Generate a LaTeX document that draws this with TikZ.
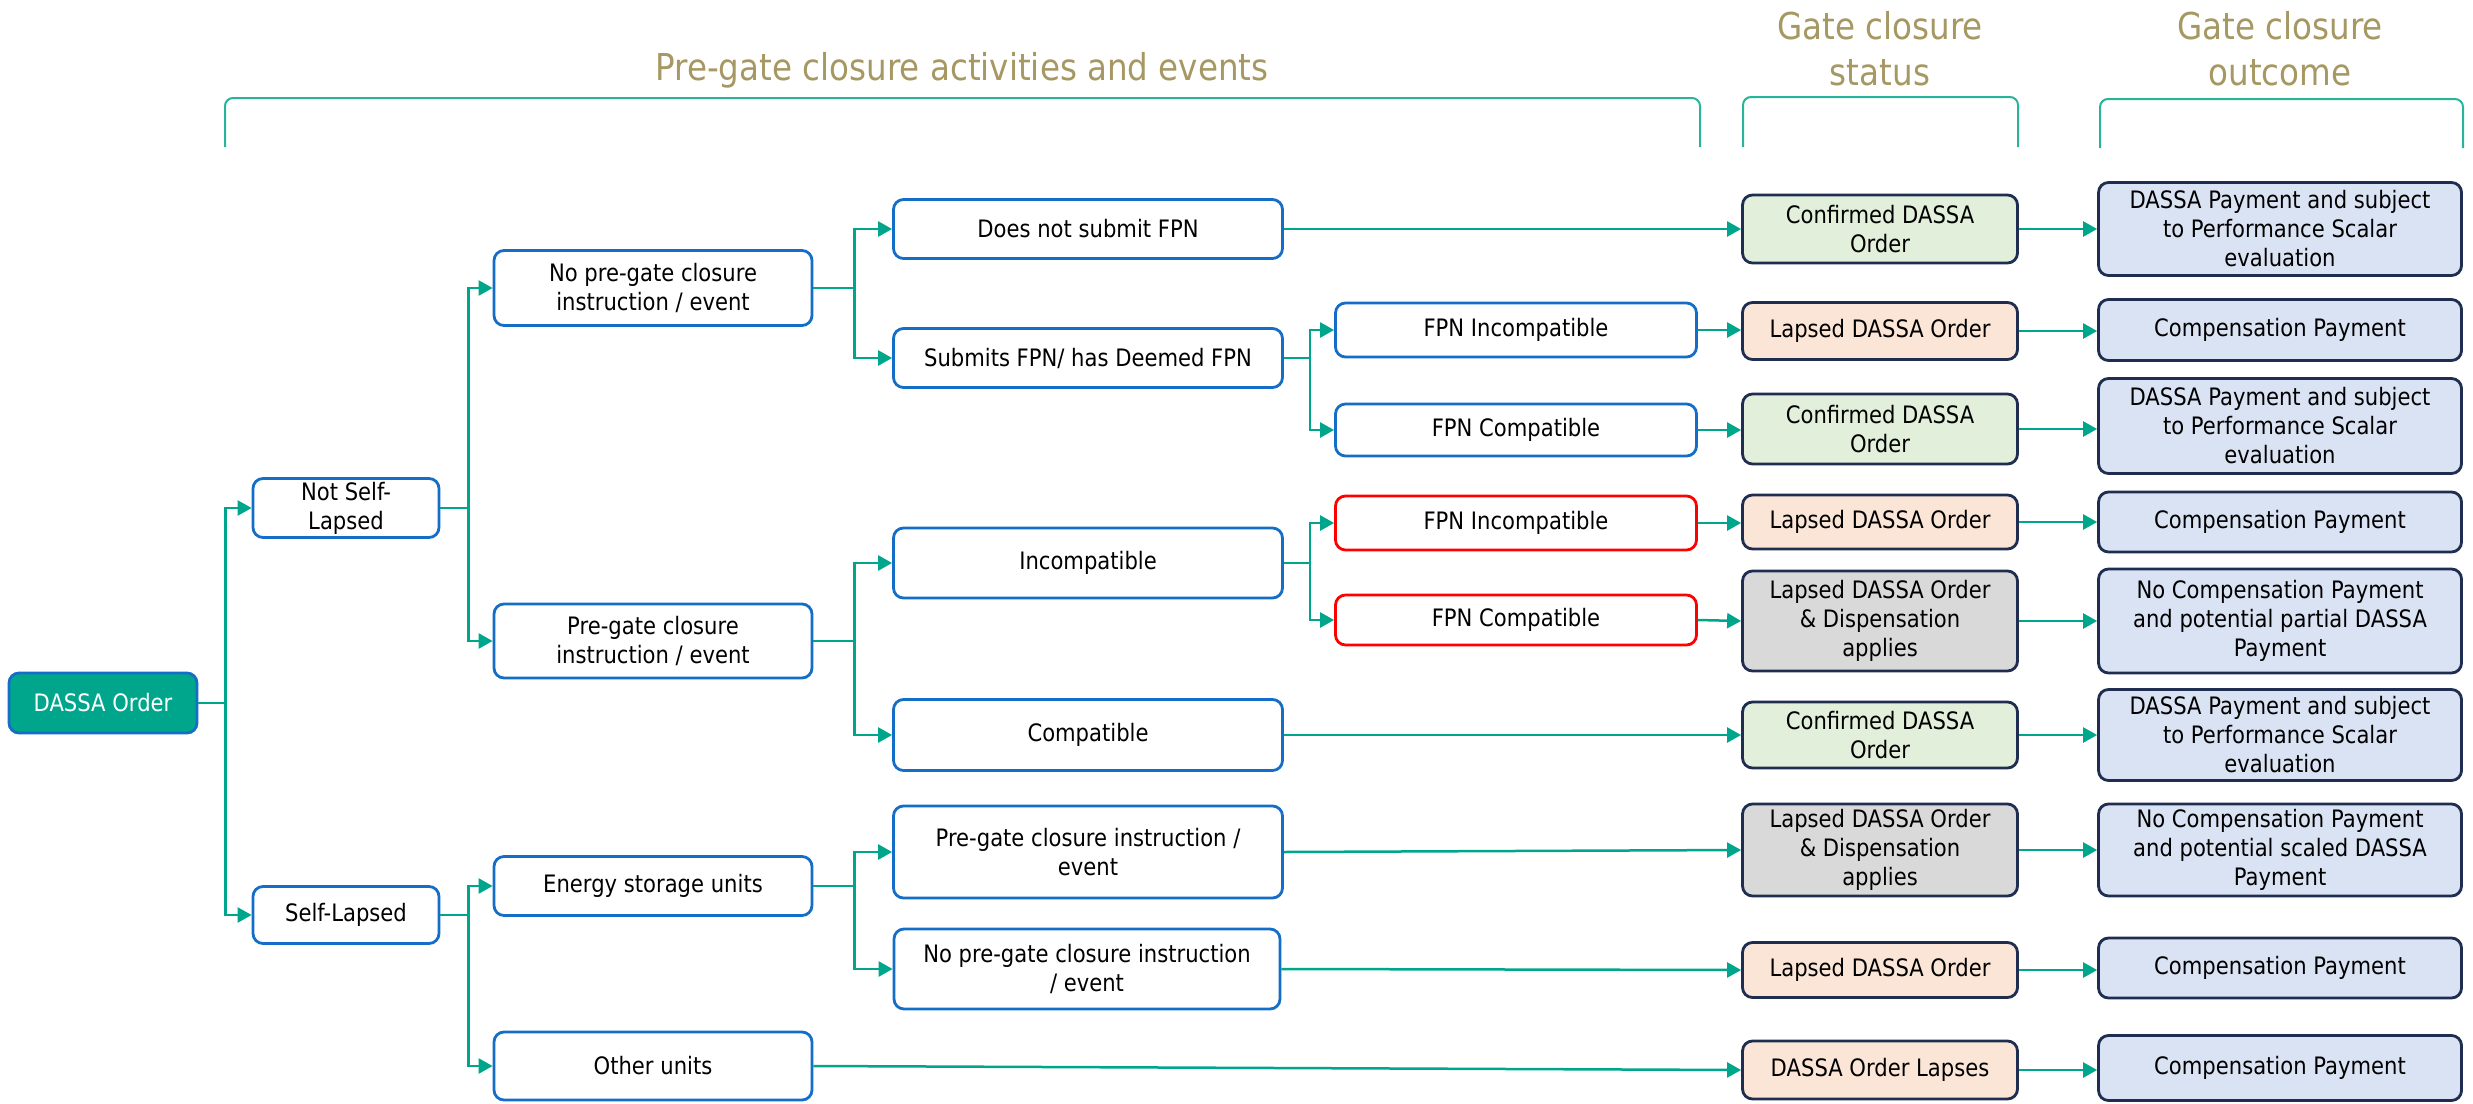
\documentclass[tikz,border=0pt]{standalone}
\usepackage{fontspec}
\setmainfont{DejaVu Sans}[FakeStretch=0.88]
\usetikzlibrary{arrows.meta}
\definecolor{teal1}{RGB}{0,166,140}
\definecolor{brkcol}{RGB}{40,180,155}
\definecolor{boxblue}{RGB}{20,110,200}
\definecolor{navy}{RGB}{30,45,80}
\definecolor{fgreen}{RGB}{226,239,218}
\definecolor{fpeach}{RGB}{251,229,214}
\definecolor{fgray}{RGB}{217,217,217}
\definecolor{fblue}{RGB}{218,227,243}
\definecolor{khaki}{RGB}{166,152,98}
\begin{document}
\begin{tikzpicture}[x=1pt,y=-1pt,
  base/.style={rounded corners=10pt, line width=2.8pt, align=center, inner sep=0pt,
    font=\fontsize{24}{29}\selectfont},
  lvl/.style={base, draw=boxblue, fill=white},
  redbox/.style={base, draw=red, fill=white},
  stgreen/.style={base, draw=navy, fill=fgreen, minimum width=275},
  stpeach/.style={base, draw=navy, fill=fpeach, minimum width=275},
  stgray/.style={base, draw=navy, fill=fgray, minimum width=275},
  outc/.style={base, draw=navy, fill=fblue, minimum width=363},
  conn/.style={draw=teal1, line width=2.5pt},
  arr/.style={conn, -{Triangle[length=14pt,width=15pt]}},
  hdr/.style={text=khaki, font=\fontsize{37}{46}\selectfont, inner sep=0pt, align=center},
  brk/.style={draw=brkcol, line width=2pt, rounded corners=8pt}]
\useasboundingbox (0,0) rectangle (2473,1103);

% headers
\node[hdr, anchor=base] (h1) at (962,80) {Pre-gate closure activities and events};
\node[hdr] (h2) at (1880,49) {Gate closure\\status};
\node[hdr] (h3) at (2280,49) {Gate closure\\outcome};
\draw[brk] (225,147) -- (225,98) -- (1700,98) -- (1700,147);
\draw[brk] (1743,147) -- (1743,97) -- (2018,97) -- (2018,147);
\draw[brk] (2100,148) -- (2100,99) -- (2463,99) -- (2463,148);

% level 0/1
\node[base, draw=boxblue, fill=teal1, text=white, minimum width=188, minimum height=60] (dassa) at (103,703) {DASSA Order};
\node[lvl, minimum width=186, minimum height=59] (nsl) at (346,508) {Not Self-\\Lapsed};
\node[lvl, minimum width=186, minimum height=57] (sl) at (346,915) {Self-Lapsed};

% level 2
\node[lvl, minimum width=318, minimum height=75] (np) at (653,288) {No pre-gate closure\\instruction / event};
\node[lvl, minimum width=318, minimum height=74] (pg) at (653,641) {Pre-gate closure\\instruction / event};
\node[lvl, minimum width=318, minimum height=59] (es) at (653,886) {Energy storage units};
\node[lvl, minimum width=318, minimum height=68] (ou) at (653,1066) {Other units};

% level 3
\node[lvl, minimum width=389, minimum height=59] (dn) at (1088,229) {Does not submit FPN};
\node[lvl, minimum width=389, minimum height=59] (sb) at (1088,358) {Submits FPN/ has Deemed FPN};
\node[lvl, minimum width=389, minimum height=70] (inc) at (1088,563) {Incompatible};
\node[lvl, minimum width=389, minimum height=71] (com) at (1088,735) {Compatible};
\node[lvl, minimum width=389, minimum height=92] (pgsl) at (1088,852) {Pre-gate closure instruction /\\event};
\node[lvl, minimum width=386, minimum height=80] (npsl) at (1087,969) {No pre-gate closure instruction\\/ event};

% level 4
\node[lvl, minimum width=361, minimum height=54] (fi1) at (1516,330) {FPN Incompatible};
\node[lvl, minimum width=361, minimum height=52] (fc1) at (1516,430) {FPN Compatible};
\node[redbox, minimum width=361, minimum height=54] (fi2) at (1516,523) {FPN Incompatible};
\node[redbox, minimum width=361, minimum height=50] (fc2) at (1516,620) {FPN Compatible};

% status
\node[stgreen, minimum height=68] (s1) at (1880,229) {Confirmed DASSA\\Order};
\node[stpeach, minimum height=57] (s2) at (1880,331) {Lapsed DASSA Order};
\node[stgreen, minimum height=70] (s3) at (1880,429) {Confirmed DASSA\\Order};
\node[stpeach, minimum height=54] (s4) at (1880,522) {Lapsed DASSA Order};
\node[stgray, minimum height=100] (s5) at (1880,621) {Lapsed DASSA Order\\\& Dispensation\\applies};
\node[stgreen, minimum height=66] (s6) at (1880,735) {Confirmed DASSA\\Order};
\node[stgray, minimum height=92] (s7) at (1880,850) {Lapsed DASSA Order\\\& Dispensation\\applies};
\node[stpeach, minimum height=55] (s8) at (1880,970) {Lapsed DASSA Order};
\node[stpeach, minimum height=58] (s9) at (1880,1070) {DASSA Order Lapses};

% outcome
\node[outc, minimum height=93] (o1) at (2280,229) {DASSA Payment and subject\\to Performance Scalar\\evaluation};
\node[outc, minimum height=61] (o2) at (2280,330) {Compensation Payment};
\node[outc, minimum height=95] (o3) at (2280,426) {DASSA Payment and subject\\to Performance Scalar\\evaluation};
\node[outc, minimum height=60] (o4) at (2280,522) {Compensation Payment};
\node[outc, minimum height=104] (o5) at (2280,621) {No Compensation Payment\\and potential partial DASSA\\Payment};
\node[outc, minimum height=91] (o6) at (2280,735) {DASSA Payment and subject\\to Performance Scalar\\evaluation};
\node[outc, minimum height=92] (o7) at (2280,850) {No Compensation Payment\\and potential scaled DASSA\\Payment};
\node[outc, minimum height=60] (o8) at (2280,968) {Compensation Payment};
\node[outc, minimum height=65] (o9) at (2280,1068) {Compensation Payment};

% tree connectors
\draw[arr] (dassa.east) -- ++(27,0) |- (nsl.west);
\draw[arr] (dassa.east) -- ++(27,0) |- (sl.west);
\draw[arr] (nsl.east) -- ++(28,0) |- (np.west);
\draw[arr] (nsl.east) -- ++(28,0) |- (pg.west);
\draw[arr] (sl.east) -- ++(28,0) |- (es.west);
\draw[arr] (sl.east) -- ++(28,0) |- (ou.west);
\draw[arr] (np.east) -- ++(41,0) |- (dn.west);
\draw[arr] (np.east) -- ++(41,0) |- (sb.west);
\draw[arr] (pg.east) -- ++(41,0) |- (inc.west);
\draw[arr] (pg.east) -- ++(41,0) |- (com.west);
\draw[arr] (es.east) -- ++(41,0) |- (pgsl.west);
\draw[arr] (es.east) -- ++(41,0) |- (npsl.west);
\draw[arr] (sb.east) -- ++(26,0) |- (fi1.west);
\draw[arr] (sb.east) -- ++(26,0) |- (fc1.west);
\draw[arr] (inc.east) -- ++(26,0) |- (fi2.west);
\draw[arr] (inc.east) -- ++(26,0) |- (fc2.west);

% to status
\draw[arr] (dn.east) -- (dn.east -| s1.west);
\draw[arr] (fi1.east) -- (fi1.east -| s2.west);
\draw[arr] (fc1.east) -- (fc1.east -| s3.west);
\draw[arr] (fi2.east) -- (fi2.east -| s4.west);
\draw[arr] (fc2.east) -- (s5.west);
\draw[arr] (com.east) -- (com.east -| s6.west);
\draw[arr] (pgsl.east) -- (s7.west);
\draw[arr] (npsl.east) -- (s8.west);
\draw[arr] (ou.east) -- (s9.west);

% to outcome
\foreach \i in {1,...,9}{
  \draw[arr] (s\i.east) -- (s\i.east -| o\i.west);
}
\end{tikzpicture}
\end{document}
